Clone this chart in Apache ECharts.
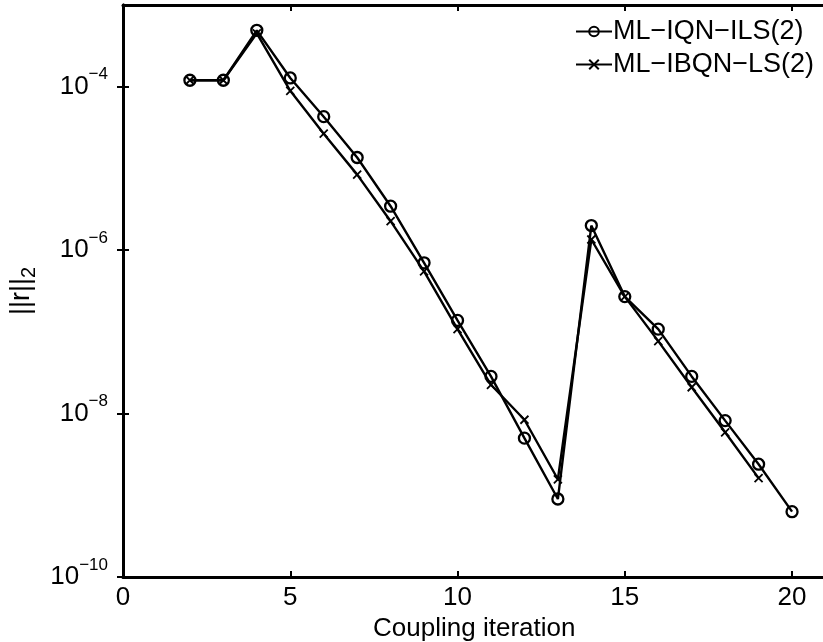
<!DOCTYPE html>
<html>
<head>
<meta charset="utf-8">
<script src="https://cdn.jsdelivr.net/npm/echarts@6/dist/echarts.min.js"></script>
<style>html,body{margin:0;padding:0;background:#fff}#c{width:823px;height:642px}</style>
</head>
<body>
<div id="c"></div>
<script>
var iters1 = [2,3,4,5,6,7,8,9,10,11,12,13,14,15,16,17,18,19,20];
var iqnIls = [1.2e-4,1.2e-4,4.9e-4,1.28e-4,4.3e-5,1.36e-5,3.45e-6,7.0e-7,1.38e-7,2.85e-8,5.0e-9,9.0e-10,2.0e-6,2.7e-7,1.08e-7,2.85e-8,8.2e-9,2.4e-9,6.3e-10];
var iters2 = [2,3,4,5,6,7,8,9,10,11,12,13,14,15,16,17,18,19];
var ibqnLs = [1.2e-4,1.2e-4,4.5e-4,8.9e-5,2.66e-5,8.4e-6,2.26e-6,5.5e-7,1.08e-7,2.25e-8,8.4e-9,1.57e-9,1.35e-6,2.7e-7,7.7e-8,2.1e-8,5.9e-9,1.62e-9];
var seriesNames = ['ML\u2212IQN\u2212ILS(2)', 'ML\u2212IBQN\u2212LS(2)'];
var xTicks = [0,5,10,15,20];
var yTickExps = [-10,-8,-6,-4];

var FONT = 'Liberation Sans';
var FS = 26;
var yTickVals = yTickExps.map(function(e){ return Math.pow(10, e); });
function pairs(xs, ys){ return xs.map(function(x,i){ return [x, ys[i]]; }); }

var axisLineStyle = {color:'#000', width:3};
var chart = echarts.init(document.getElementById('c'));
chart.setOption({
  animation:false,
  backgroundColor:'#fff',
  grid:{left:123, top:5, width:702.5, height:572, outerBoundsMode:'none'},
  legend:{
    orient:'vertical', left:575, top:17, padding:0, itemGap:4,
    itemWidth:36, itemHeight:12,
    textStyle:{fontFamily:FONT, fontSize:27, color:'#000', lineHeight:29, padding:[0,0,0,-4]},
    data:seriesNames
  },
  xAxis:[{
    type:'value', min:0, max:21, interval:5, position:'bottom',
    axisLine:{show:true, lineStyle:axisLineStyle},
    axisTick:{show:true, inside:true, length:6, lineStyle:{color:'#000', width:2}, customValues:xTicks},
    axisLabel:{show:true, color:'#000', fontFamily:FONT, fontSize:FS, margin:8, customValues:xTicks},
    splitLine:{show:false},
    name:'Coupling iteration', nameLocation:'middle', nameGap:32,
    nameTextStyle:{fontFamily:FONT, fontSize:FS, color:'#000'}
  },{
    type:'value', min:0, max:21, interval:5, position:'top',
    axisLine:{show:true, lineStyle:axisLineStyle},
    axisTick:{show:true, inside:true, length:6, lineStyle:{color:'#000', width:2}, customValues:xTicks},
    axisLabel:{show:false}, splitLine:{show:false}
  }],
  yAxis:[{
    type:'log', logBase:10, min:1e-10, max:1e-3, position:'left',
    axisLine:{show:true, lineStyle:axisLineStyle},
    axisTick:{show:true, inside:true, length:6, lineStyle:{color:'#000', width:2}, customValues:yTickVals},
    minorTick:{show:false},
    axisLabel:{
      show:true, customValues:yTickVals, margin:15,
      formatter:function(v){
        var e = Math.round(Math.log10(v));
        return '{b|10}{s|\u2212' + Math.abs(e) + '}';
      },
      rich:{
        b:{fontFamily:FONT, fontSize:FS, color:'#000', lineHeight:30},
        s:{fontFamily:FONT, fontSize:17, color:'#000', lineHeight:17, padding:[0,0,24,0]}
      }
    },
    splitLine:{show:false},
    name:'{m|||r||}{u|2}', nameLocation:'middle', nameRotate:90, nameGap:80,
    nameTextStyle:{
      rich:{
        m:{fontFamily:FONT, fontSize:27, color:'#000', lineHeight:30},
        u:{fontFamily:FONT, fontSize:20, color:'#000', lineHeight:20, padding:[16,0,0,0]}
      }
    }
  },{
    type:'log', logBase:10, min:1e-10, max:1e-3, position:'right',
    axisLine:{show:true, lineStyle:axisLineStyle},
    axisTick:{show:true, inside:true, length:6, lineStyle:{color:'#000', width:2}, customValues:yTickVals},
    minorTick:{show:false},
    axisLabel:{show:false}, splitLine:{show:false}
  }],
  series:[{
    name:seriesNames[0], type:'line', xAxisIndex:0, yAxisIndex:0,
    data:pairs(iters1, iqnIls),
    symbol:'circle', symbolSize:11, showAllSymbol:true,
    lineStyle:{color:'#000', width:2.4},
    itemStyle:{color:'rgba(255,255,255,0)', borderColor:'#000', borderWidth:2.3}
  },{
    name:seriesNames[1], type:'line', xAxisIndex:0, yAxisIndex:0,
    data:pairs(iters2, ibqnLs),
    symbol:'path://M0,0L10,10M10,0L0,10', symbolSize:8, showAllSymbol:true,
    lineStyle:{color:'#000', width:2.4},
    itemStyle:{color:'#000', borderColor:'#000', borderWidth:1.8}
  }]
});
</script>
</body>
</html>
